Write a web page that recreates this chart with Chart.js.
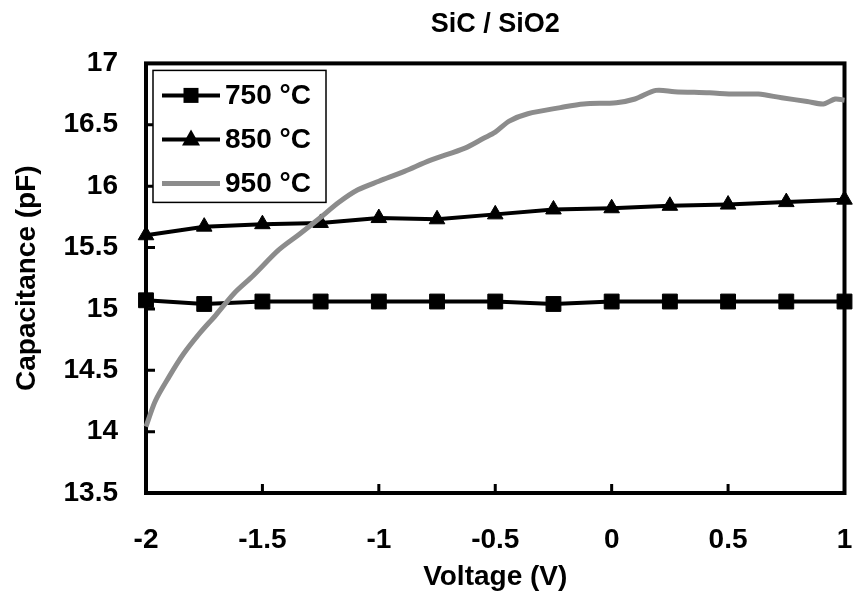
<!DOCTYPE html>
<html>
<head>
<meta charset="utf-8">
<script src="https://cdn.jsdelivr.net/npm/chart.js@4.4.0/dist/chart.umd.min.js"></script>
<style>
  html, body { margin: 0; padding: 0; background: #fff; }
</style>
</head>
<body>
<canvas id="cvChart" width="856" height="592"></canvas>
<script>
// values
const voltages = [-2, -1.75, -1.5, -1.25, -1, -0.75, -0.5, -0.25, 0, 0.25, 0.5, 0.75, 1];
const cap750 = [15.07, 15.04, 15.06, 15.06, 15.06, 15.06, 15.06, 15.04, 15.06, 15.06, 15.06, 15.06, 15.06];
const cap850 = [15.60, 15.67, 15.69, 15.70, 15.74, 15.73, 15.77, 15.81, 15.82, 15.84, 15.85, 15.87, 15.89];
const volt950 = [-2, -1.96, -1.9, -1.84, -1.77, -1.7, -1.62, -1.54, -1.43, -1.34, -1.26, -1.17, -1.09, -1,
  -0.89, -0.78, -0.63, -0.55, -0.5, -0.44, -0.36, -0.22, -0.12, 0.02, 0.1, 0.19, 0.27, 0.42, 0.53,
  0.63, 0.73, 0.84, 0.91, 0.96, 1];
const cap950 = [14.04, 14.25, 14.45, 14.63, 14.8, 14.95, 15.13, 15.27, 15.48, 15.61, 15.73, 15.87, 15.97, 16.04,
  16.12, 16.21, 16.31, 16.39, 16.44, 16.53, 16.59, 16.64, 16.67, 16.68, 16.71, 16.78, 16.77, 16.76, 16.75,
  16.75, 16.72, 16.69, 16.67, 16.71, 16.7];
const xTicks = [-2, -1.5, -1, -0.5, 0, 0.5, 1];
const yTicks = [13.5, 14, 14.5, 15, 15.5, 16, 16.5, 17];
const seriesNames = ['750 °C', '850 °C', '950 °C'];

const FONT = '"Liberation Sans", Arial, Helvetica, sans-serif';
const GREY = '#8c8c8c';

const pairs = (xs, ys) => xs.map((x, i) => ({ x: x, y: ys[i] }));

// frame round the plot + inward tick marks
const framePlugin = {
    id: 'frame',
    beforeDatasetsDraw(chart) {
        const { ctx, chartArea: ca, scales } = chart;
        ctx.save();
        ctx.strokeStyle = '#000';
        ctx.lineWidth = 4;
        ctx.strokeRect(ca.left, ca.top, ca.right - ca.left, ca.bottom - ca.top);
        ctx.lineWidth = 3;
        ctx.beginPath();
        yTicks.forEach(v => {
            const y = scales.y.getPixelForValue(v);
            ctx.moveTo(ca.left, y);
            ctx.lineTo(ca.left + 9, y);
        });
        xTicks.forEach(v => {
            const x = scales.x.getPixelForValue(v);
            ctx.moveTo(x, ca.bottom);
            ctx.lineTo(x, ca.bottom - 9);
        });
        ctx.stroke();
        ctx.restore();
    }
};

function drawMarker(ctx, style, x, y) {
    ctx.fillStyle = '#000';
    ctx.beginPath();
    if (style === 'rect') {
        ctx.rect(x - 7.5, y - 7.5, 15, 15);
    } else if (style === 'triangle') {
        ctx.moveTo(x, y - 10);
        ctx.lineTo(x + 9, y + 6);
        ctx.lineTo(x - 9, y + 6);
        ctx.closePath();
    }
    ctx.fill();
}

// boxed legend inside the top-left of the plot
const legendPlugin = {
    id: 'boxLegend',
    afterDraw(chart) {
        const { ctx, chartArea: ca } = chart;
        const bx = ca.left + 7, by = ca.top + 7, bw = 173, bh = 132;
        ctx.save();
        ctx.fillStyle = '#fff';
        ctx.fillRect(bx, by, bw, bh);
        ctx.strokeStyle = '#000';
        ctx.lineWidth = 1.5;
        ctx.strokeRect(bx, by, bw, bh);
        const rows = [
            { label: seriesNames[0], color: '#000', width: 4, marker: 'rect' },
            { label: seriesNames[1], color: '#000', width: 4, marker: 'triangle' },
            { label: seriesNames[2], color: GREY, width: 5, marker: null }
        ];
        ctx.font = 'bold 28px ' + FONT;
        ctx.textBaseline = 'middle';
        ctx.textAlign = 'left';
        rows.forEach((r, i) => {
            const y = by + 25 + i * 44;
            ctx.strokeStyle = r.color;
            ctx.lineWidth = r.width;
            ctx.beginPath();
            ctx.moveTo(bx + 9, y);
            ctx.lineTo(bx + 67, y);
            ctx.stroke();
            if (r.marker) drawMarker(ctx, r.marker, bx + 38, y);
            ctx.fillStyle = '#000';
            ctx.fillText(r.label, bx + 72, y + 1);
        });
        ctx.restore();
    }
};

new Chart(document.getElementById('cvChart').getContext('2d'), {
    type: 'line',
    data: {
        datasets: [
            {
                label: seriesNames[2],
                data: pairs(volt950, cap950),
                borderColor: GREY,
                borderWidth: 5,
                pointRadius: 0,
                tension: 0.3,
                clip: false,
                order: 0
            },
            {
                label: seriesNames[1],
                data: pairs(voltages, cap850),
                borderColor: '#000',
                backgroundColor: '#000',
                borderWidth: 4,
                pointStyle: 'triangle',
                pointRadius: 9,
                pointBorderWidth: 1,
                tension: 0,
                clip: false,
                order: 1
            },
            {
                label: seriesNames[0],
                data: pairs(voltages, cap750),
                borderColor: '#000',
                backgroundColor: '#000',
                borderWidth: 4,
                pointStyle: 'rect',
                pointRadius: 10.5,
                pointBorderWidth: 1,
                tension: 0,
                clip: false,
                order: 2
            }
        ]
    },
    options: {
        responsive: false,
        animation: false,
        devicePixelRatio: 1,
        layout: { padding: { left: 0, right: 3, top: 0, bottom: 0 } },
        plugins: {
            legend: { display: false },
            tooltip: { enabled: false },
            title: {
                display: true,
                text: 'SiC / SiO2',
                fullSize: false,
                color: '#000',
                font: { family: FONT, size: 27, weight: 'bold' },
                padding: { top: 8, bottom: 23 }
            }
        },
        scales: {
            x: {
                type: 'linear',
                min: -2,
                max: 1,
                afterBuildTicks: s => { s.ticks = xTicks.map(v => ({ value: v })); },
                afterFit: s => { s.height = 99; s.paddingLeft = 0; s.paddingRight = 0; },
                grid: { display: false, drawTicks: false },
                border: { display: false },
                ticks: {
                    color: '#000',
                    padding: 30,
                    maxRotation: 0,
                    font: { family: FONT, size: 28, weight: 'bold' },
                    callback: v => String(v)
                },
                title: {
                    display: true,
                    text: 'Voltage (V)',
                    color: '#000',
                    font: { family: FONT, size: 28, weight: 'bold' },
                    padding: { top: 0, bottom: -2 }
                }
            },
            y: {
                min: 13.5,
                max: 17,
                afterBuildTicks: s => { s.ticks = yTicks.map(v => ({ value: v })); },
                afterFit: s => { s.width = 146; s.paddingTop = 0; s.paddingBottom = 0; },
                grid: { display: false, drawTicks: false },
                border: { display: false },
                ticks: {
                    color: '#000',
                    padding: 28,
                    font: { family: FONT, size: 28, weight: 'bold' },
                    callback: v => String(v)
                },
                title: {
                    display: true,
                    text: 'Capacitance (pF)',
                    color: '#000',
                    font: { family: FONT, size: 28, weight: 'bold' },
                    padding: { top: 10, bottom: 0 }
                }
            }
        }
    },
    plugins: [framePlugin, legendPlugin]
});
</script>
</body>
</html>
